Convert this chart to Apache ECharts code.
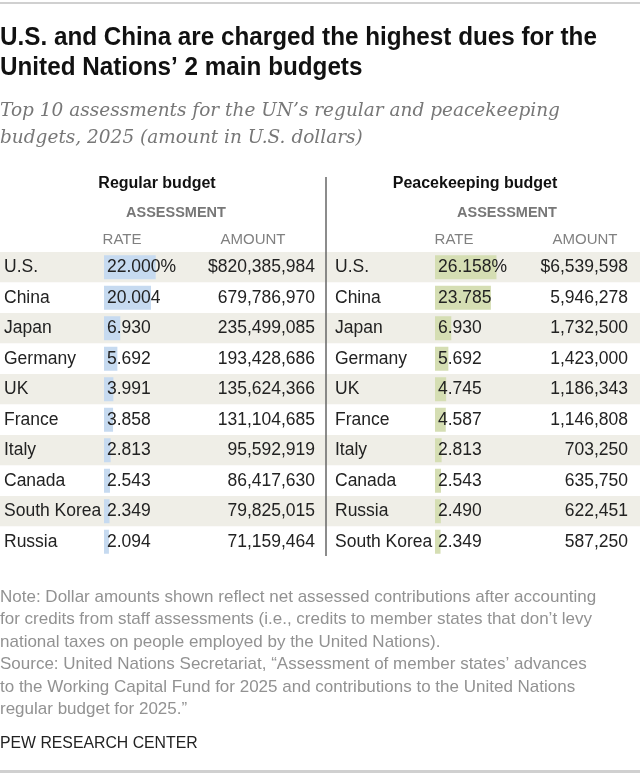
<!DOCTYPE html>
<html>
<head>
<meta charset="utf-8">
<script src="https://cdn.jsdelivr.net/npm/echarts@6/dist/echarts.min.js"></script>
<style>
  html, body { margin: 0; padding: 0; background: #fff; }
  #chart { width: 640px; height: 773px; }
</style>
</head>
<body>
<div id="chart"></div>
<script>
// regular budget, top 10
var regCountries = ['U.S.', 'China', 'Japan', 'Germany', 'UK', 'France', 'Italy', 'Canada', 'South Korea', 'Russia'];
var regRates = [22.000, 20.004, 6.930, 5.692, 3.991, 3.858, 2.813, 2.543, 2.349, 2.094];
var regAmounts = [820385984, 679786970, 235499085, 193428686, 135624366, 131104685, 95592919, 86417630, 79825015, 71159464];

// peacekeeping budget, top 10
var pkCountries = ['U.S.', 'China', 'Japan', 'Germany', 'UK', 'France', 'Italy', 'Canada', 'Russia', 'South Korea'];
var pkRates = [26.158, 23.785, 6.930, 5.692, 4.745, 4.587, 2.813, 2.543, 2.490, 2.349];
var pkAmounts = [6539598, 5946278, 1732500, 1423000, 1186343, 1146808, 703250, 635750, 622451, 587250];

var chart = echarts.init(document.getElementById('chart'));

var FONT = "'Liberation Sans', Arial, sans-serif";
var PX_PER_UNIT = 2.35;
var TOP = 252, ROWS_H = 305;

function fmtAmount(v, i) {
  var s = v.toLocaleString('en-US');
  return i === 0 ? '$' + s : s;
}

// one table = one grid; bar baseline sits at barStart px from the grid's left edge
function table(idx, left, width, barStart, countries, rates, amounts, barColor) {
  return {
    grid: { left: left, top: TOP, width: width, height: ROWS_H },
    xAxis: {
      type: 'value', gridIndex: idx, show: false,
      min: -barStart / PX_PER_UNIT,
      max: (width - barStart) / PX_PER_UNIT
    },
    yAxis: [
      {
        type: 'category', gridIndex: idx, inverse: true, data: countries,
        position: 'left',
        axisLine: { show: false }, axisTick: { show: false },
        axisLabel: { inside: true, margin: idx === 0 ? 4 : 9, interval: 0, color: '#222', fontSize: 17.5, fontFamily: FONT, align: 'left' },
        splitArea: { show: true, areaStyle: { color: ['#efeee7', '#ffffff'] } }
      },
      {
        type: 'category', gridIndex: idx, inverse: true,
        data: amounts.map(fmtAmount),
        position: 'right',
        axisLine: { show: false }, axisTick: { show: false },
        axisLabel: { inside: true, margin: idx === 0 ? 11 : 12, interval: 0, color: '#222', fontSize: 17.5, fontFamily: FONT, align: 'right' }
      }
    ],
    series: {
      type: 'bar', xAxisIndex: idx, yAxisIndex: idx * 2,
      data: rates, barWidth: 24, silent: true,
      itemStyle: { color: barColor },
      label: {
        show: true, position: 'insideLeft', distance: 3,
        color: '#222', fontSize: 17.5, fontFamily: FONT,
        formatter: function (p) { return p.value.toFixed(3) + (p.dataIndex === 0 ? '%' : ''); }
      }
    }
  };
}

var t1 = table(0, 0, 326, 104, regCountries, regRates, regAmounts, '#c6daf0');
var t2 = table(1, 326, 314, 109, pkCountries, pkRates, pkAmounts, '#d5deb3');

function txt(x, y, s, style, sx) {
  return { type: 'text', x: x, y: y, scaleX: sx || 1, silent: true,
    style: Object.assign({ text: s, fontFamily: FONT, fill: '#222', verticalAlign: 'middle' }, style) };
}

var titleStyle = { fontSize: 25, fontWeight: 'bold', fill: '#111' };
var subStyle = { fontSize: 18.5, fontStyle: 'italic', fill: '#777', fontFamily: "'DejaVu Serif', serif" };
var noteStyle = { fontSize: 17, fill: '#929292' };
var hdr = { fontSize: 16, fontWeight: 'bold', align: 'center', fill: '#111' };
var sub = { fontSize: 14.5, fontWeight: 'bold', align: 'center', fill: '#777' };
var col = { fontSize: 15, align: 'center', fill: '#808080' };

chart.setOption({
  animation: false,
  grid: [t1.grid, t2.grid],
  xAxis: [t1.xAxis, t2.xAxis],
  yAxis: t1.yAxis.concat(t2.yAxis),
  series: [t1.series, t2.series],
  graphic: [
    { type: 'rect', shape: { x: 0, y: 2, width: 640, height: 2 }, style: { fill: '#d0d0d0' } },
    { type: 'rect', shape: { x: 0, y: 770, width: 640, height: 3 }, style: { fill: '#d0d0d0' } },
    txt(0, 38, 'U.S. and China are charged the highest dues for the', titleStyle, 0.97),
    txt(0, 68, 'United Nations\u2019 2 main budgets', titleStyle, 0.97),
    txt(0, 111, 'Top 10 assessments for the UN\u2019s regular and peacekeeping', subStyle),
    txt(0, 138, 'budgets, 2025 (amount in U.S. dollars)', subStyle),
    txt(157, 184, 'Regular budget', hdr),
    txt(176, 213, 'ASSESSMENT', sub),
    txt(122, 240, 'RATE', col),
    txt(253, 240, 'AMOUNT', col),
    txt(475, 184, 'Peacekeeping budget', hdr),
    txt(507, 213, 'ASSESSMENT', sub),
    txt(454, 240, 'RATE', col),
    txt(585, 240, 'AMOUNT', col),
    { type: 'line', shape: { x1: 326, y1: 177, x2: 326, y2: 556 }, style: { stroke: '#666', lineWidth: 1.5 }, z: 10 },
    txt(0, 597, 'Note: Dollar amounts shown reflect net assessed contributions after accounting', noteStyle),
    txt(0, 619, 'for credits from staff assessments (i.e., credits to member states that don\u2019t levy', noteStyle),
    txt(0, 642, 'national taxes on people employed by the United Nations).', noteStyle),
    txt(0, 664, 'Source: United Nations Secretariat, \u201cAssessment of member states\u2019 advances', noteStyle),
    txt(0, 687, 'to the Working Capital Fund for 2025 and contributions to the United Nations', noteStyle),
    txt(0, 709, 'regular budget for 2025.\u201d', noteStyle),
    txt(0, 743, 'PEW RESEARCH CENTER', { fontSize: 17, fill: '#222' }, 0.93)
  ]
});
</script>
</body>
</html>
